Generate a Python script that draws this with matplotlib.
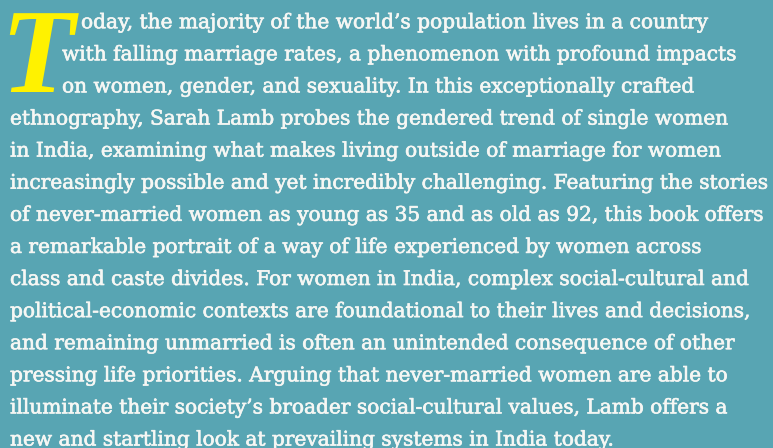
import matplotlib
matplotlib.use("Agg")
import matplotlib.pyplot as plt
import matplotlib.patheffects as pe
import numpy as np

# text lines (first line without the drop cap letter)
drop_cap = "T"
lines = [
    "oday, the majority of the world\u2019s population lives in a country",
    "with falling marriage rates, a phenomenon with profound impacts",
    "on women, gender, and sexuality. In this exceptionally crafted",
    "ethnography, Sarah Lamb probes the gendered trend of single women",
    "in India, examining what makes living outside of marriage for women",
    "increasingly possible and yet incredibly challenging. Featuring the stories",
    "of never-married women as young as 35 and as old as 92, this book offers",
    "a remarkable portrait of a way of life experienced by women across",
    "class and caste divides. For women in India, complex social-cultural and",
    "political-economic contexts are foundational to their lives and decisions,",
    "and remaining unmarried is often an unintended consequence of other",
    "pressing life priorities. Arguing that never-married women are able to",
    "illuminate their society\u2019s broader social-cultural values, Lamb offers a",
    "new and startling look at prevailing systems in India today.",
]
# left / right edges, used to size the font
left_edges = [81, 62, 62] + [10] * 11
right_edges = [742, 757, 727, 727, 733, 771, 755, 699, 745, 762, 745, 729, 730, 617]

bg = "#58a5b3"
fg = "#f6f7f4"
cap_color = "#fff200"

W, H = 773, 448
fig = plt.figure(figsize=(W / 100, H / 100), dpi=100, facecolor=bg)
ax = fig.add_axes([0, 0, 1, 1])
ax.set_xlim(0, W)
ax.set_ylim(H, 0)
ax.axis("off")
ax.set_facecolor(bg)

family = "DejaVu Serif"
base_size = 14
fig.canvas.draw()
r = fig.canvas.get_renderer()
ratios = []
for s, x0, x1 in zip(lines, left_edges, right_edges):
    t = ax.text(0, 0, s, fontsize=base_size, family=family)
    w = t.get_window_extent(renderer=r).width
    ratios.append((x1 - x0) / w)
    t.remove()
size = base_size * np.median(ratios)

# slightly heavier strokes, the original face is a bit darker than DejaVu
thicker = [pe.withStroke(linewidth=0.45, foreground=fg)]

pitch = 32.1
for i, (s, x0) in enumerate(zip(lines, left_edges)):
    ax.text(x0, 28.2 + i * pitch, s, fontsize=size, family=family,
            color=fg, va="baseline", ha="left", path_effects=thicker)

ax.text(0, 91.5, drop_cap, fontsize=87, family="Liberation Serif", weight="bold",
        style="italic", color=cap_color, va="baseline", ha="left")

fig.savefig("out.png", dpi=100, facecolor=bg)
